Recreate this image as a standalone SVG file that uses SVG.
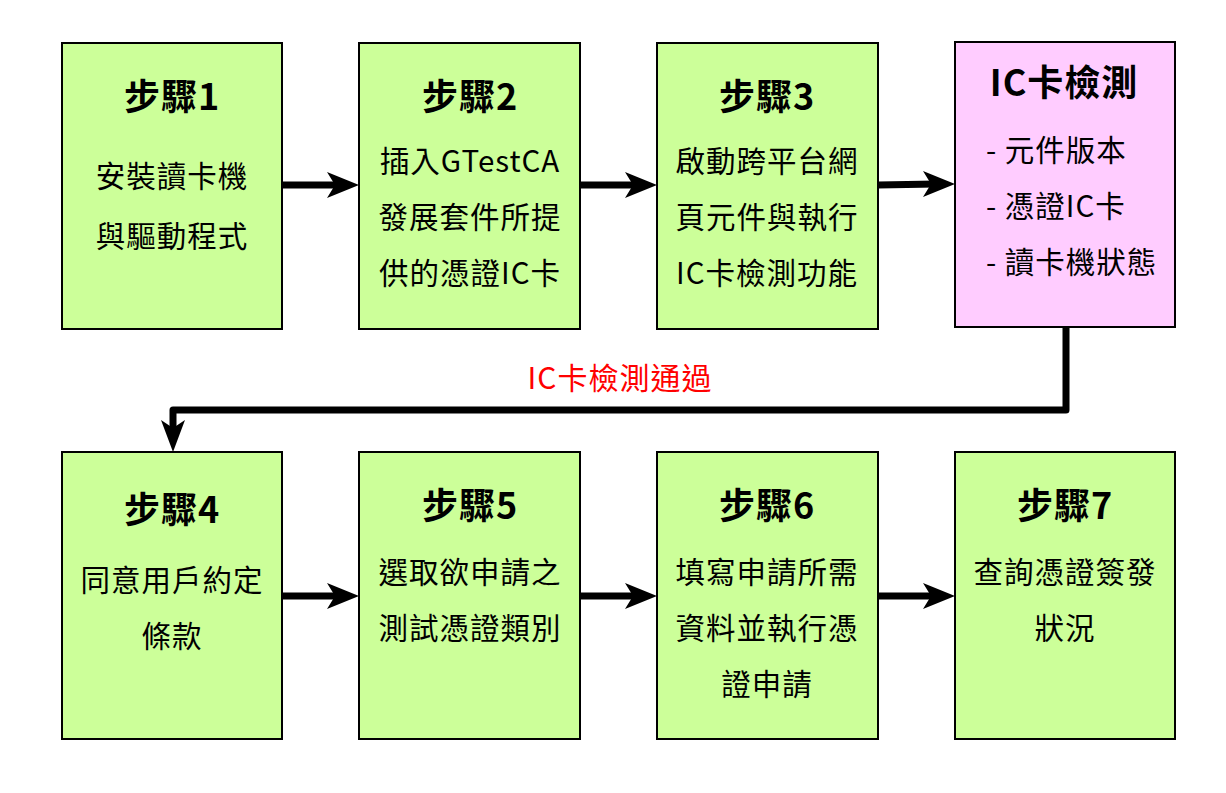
<svg xmlns="http://www.w3.org/2000/svg" width="1226" height="793" viewBox="0 0 1226 793">
<defs>
<style>
.box{fill:#CCFF99;stroke:#000;stroke-width:2}
.pink{fill:#FFCCFF;stroke:#000;stroke-width:2}
.t{font-family:"Noto Sans CJK TC","Noto Sans",sans-serif;font-size:36px;font-weight:bold;fill:#000;text-anchor:middle;letter-spacing:1px}
.b{font-family:"Noto Sans CJK TC","Noto Sans",sans-serif;font-size:29.5px;fill:#000;text-anchor:middle;letter-spacing:1px}
.bl{font-family:"Noto Sans CJK TC","Noto Sans",sans-serif;font-size:29.5px;fill:#000;letter-spacing:1px}
.lbl{font-family:"Noto Sans CJK TC","Noto Sans",sans-serif;font-size:30px;fill:#FF0000;text-anchor:middle;letter-spacing:1px}
.ln{fill:none;stroke:#000;stroke-width:7;stroke-linejoin:round}
.ah{fill:#000}
</style>
</defs>
<rect width="1226" height="793" fill="#fff"/>
<g id="connectors">
<line class="ln" x1="282" y1="185" x2="340" y2="185"/>
<polygon class="ah" points="359,185 327,172 335,185 327,198"/>
<line class="ln" x1="580" y1="185" x2="638" y2="185"/>
<polygon class="ah" points="657,185 625,172 633,185 625,198"/>
<line class="ln" x1="878" y1="185" x2="936" y2="184"/>
<polygon class="ah" points="955,184 923,171 931,184 923,197"/>
<path class="ln" d="M1066,327 V410 H173 V435"/>
<polygon class="ah" points="173,452 161,420 173,428 185,420"/>
<line class="ln" x1="282" y1="596" x2="340" y2="596"/>
<polygon class="ah" points="359,596 327,583 335,596 327,609"/>
<line class="ln" x1="580" y1="596" x2="638" y2="596"/>
<polygon class="ah" points="657,596 625,583 633,596 625,609"/>
<line class="ln" x1="878" y1="596" x2="936" y2="596"/>
<polygon class="ah" points="955,596 923,583 931,596 923,609"/>
<text class="lbl" x="620" y="389">IC卡檢測通過</text>
</g>
<g id="step1">
<rect class="box" x="62" y="43" width="220" height="286"/>
<text class="t" x="172" y="110">步驟1</text>
<text class="b" x="172" y="187">安裝讀卡機</text>
<text class="b" x="172" y="247">與驅動程式</text>
</g>
<g id="step2">
<rect class="box" x="359" y="43" width="221" height="286"/>
<text class="t" x="470" y="110">步驟2</text>
<text class="b" x="470" y="172">插入GTestCA</text>
<text class="b" x="470" y="228">發展套件所提</text>
<text class="b" x="470" y="284">供的憑證IC卡</text>
</g>
<g id="step3">
<rect class="box" x="657" y="43" width="221" height="286"/>
<text class="t" x="767" y="110">步驟3</text>
<text class="b" x="767" y="172">啟動跨平台網</text>
<text class="b" x="767" y="228">頁元件與執行</text>
<text class="b" x="767" y="284">IC卡檢測功能</text>
</g>
<g id="iccheck">
<rect class="pink" x="955" y="42" width="220" height="285"/>
<text class="t" x="1064" y="96">IC卡檢測</text>
<text class="bl" x="986" y="161">- 元件版本</text>
<text class="bl" x="986" y="217">- 憑證IC卡</text>
<text class="bl" x="986" y="273">- 讀卡機狀態</text>
</g>
<g id="step4">
<rect class="box" x="62" y="452" width="220" height="287"/>
<text class="t" x="172" y="523">步驟4</text>
<text class="b" x="172" y="591">同意用戶約定</text>
<text class="b" x="172" y="647">條款</text>
</g>
<g id="step5">
<rect class="box" x="359" y="452" width="221" height="287"/>
<text class="t" x="470" y="519">步驟5</text>
<text class="b" x="470" y="583">選取欲申請之</text>
<text class="b" x="470" y="639">測試憑證類別</text>
</g>
<g id="step6">
<rect class="box" x="657" y="452" width="221" height="287"/>
<text class="t" x="767" y="519">步驟6</text>
<text class="b" x="767" y="583">填寫申請所需</text>
<text class="b" x="767" y="639">資料並執行憑</text>
<text class="b" x="767" y="695">證申請</text>
</g>
<g id="step7">
<rect class="box" x="955" y="452" width="220" height="287"/>
<text class="t" x="1065" y="519">步驟7</text>
<text class="b" x="1065" y="583">查詢憑證簽發</text>
<text class="b" x="1065" y="639">狀況</text>
</g>
</svg>
